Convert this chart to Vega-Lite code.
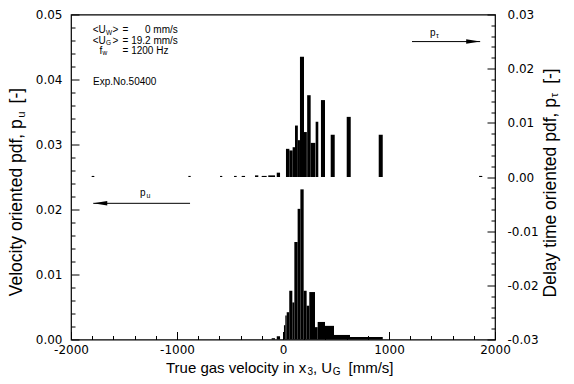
{
  "$schema": "https://vega.github.io/schema/vega-lite/v6.json",
  "width": 424,
  "height": 325,
  "autosize": {"type": "none"},
  "padding": {"left": 71, "top": 14.5, "right": 79, "bottom": 44.5},
  "background": "white",
  "config": {
    "view": {"stroke": "black", "strokeWidth": 1.2},
    "axis": {"domain": false, "grid": false, "tickColor": "black", "tickWidth": 1, "labelColor": "black", "labelFont": "DejaVu Sans", "labelFontSize": 12, "labelFlush": false, "labelOverlap": false, "labelBound": false}
  },
  "datasets": {
    "pu": [
      {"lo": -107, "hi": -75, "p": 0.0002}, {"lo": -59, "hi": -28, "p": 0.0005},
      {"lo": 9, "hi": 22, "p": 0.0022}, {"lo": 22, "hi": 35, "p": 0.0037},
      {"lo": 35, "hi": 59, "p": 0.0042}, {"lo": 59, "hi": 88, "p": 0.0075},
      {"lo": 88, "hi": 107, "p": 0.0057}, {"lo": 107, "hi": 138, "p": 0.0150},
      {"lo": 138, "hi": 164, "p": 0.0201}, {"lo": 164, "hi": 195, "p": 0.0231},
      {"lo": 195, "hi": 223, "p": 0.0075}, {"lo": 223, "hi": 248, "p": 0.0052},
      {"lo": 248, "hi": 302, "p": 0.0073}, {"lo": 302, "hi": 327, "p": 0.0019},
      {"lo": 327, "hi": 396, "p": 0.0027}, {"lo": 396, "hi": 481, "p": 0.0021},
      {"lo": 481, "hi": 632, "p": 0.0007}, {"lo": 632, "hi": 941, "p": 0.0004}
    ],
    "ptau": [
      {"lo": -1805, "hi": -1780, "p": 0.0002}, {"lo": -893, "hi": -871, "p": 0.0002},
      {"lo": -594, "hi": -573, "p": 0.0002}, {"lo": -462, "hi": -437, "p": 0.0002},
      {"lo": -390, "hi": -358, "p": 0.0002}, {"lo": -264, "hi": -233, "p": 0.0003},
      {"lo": -201, "hi": -154, "p": 0.0002}, {"lo": -139, "hi": -75, "p": 0.0003},
      {"lo": -59, "hi": -28, "p": 0.0008},
      {"lo": 28, "hi": 60, "p": 0.0052}, {"lo": 60, "hi": 91, "p": 0.0049},
      {"lo": 91, "hi": 113, "p": 0.0055}, {"lo": 113, "hi": 140, "p": 0.0095},
      {"lo": 140, "hi": 160, "p": 0.0068}, {"lo": 160, "hi": 198, "p": 0.0222},
      {"lo": 198, "hi": 225, "p": 0.0083}, {"lo": 228, "hi": 261, "p": 0.0151},
      {"lo": 261, "hi": 305, "p": 0.0063}, {"lo": 308, "hi": 333, "p": 0.0102},
      {"lo": 358, "hi": 396, "p": 0.0142}, {"lo": 450, "hi": 488, "p": 0.0078},
      {"lo": 601, "hi": 639, "p": 0.0111}, {"lo": 903, "hi": 941, "p": 0.0078},
      {"lo": 1850, "hi": 1880, "p": 0.0002}
    ],
    "notes": [
      {"t": "<U", "x": -1795, "y": 0.04754},
      {"t": ">", "x": -1608, "y": 0.04754},
      {"t": "=", "x": -1514, "y": 0.04754},
      {"t": "0 mm/s", "x": -1302, "y": 0.04754},
      {"t": "<U", "x": -1795, "y": 0.046},
      {"t": ">", "x": -1608, "y": 0.046},
      {"t": "= 19.2 mm/s", "x": -1514, "y": 0.046},
      {"t": "f", "x": -1731, "y": 0.04446},
      {"t": "= 1200 Hz", "x": -1514, "y": 0.04446},
      {"t": "Exp.No.50400", "x": -1792, "y": 0.03966}
    ],
    "notes_sub": [
      {"t": "W", "x": -1670, "y": 0.04754},
      {"t": "G", "x": -1670, "y": 0.046},
      {"t": "w", "x": -1703, "y": 0.04446}
    ],
    "plabel_l": [{"t": "p", "x": -1349, "y": 0.0225}],
    "plabel_l_sub": [{"t": "u", "x": -1288, "y": 0.0225}],
    "arrow_l": [{"x1": -1790, "x2": -877, "y": 0.02095}],
    "head_l": [{"x": -1724, "y": 0.02095}],
    "arrow_r": [{"x1": 1217, "x2": 1860, "y": 0.025}],
    "head_r": [{"x": 1794, "y": 0.025}],
    "notes_r": [{"t": "p", "x": 1387, "y": 0.0266}],
    "notes_r_sub": [{"t": "τ", "x": 1443, "y": 0.0266}],
    "xtitle": [
      {"t": "True gas velocity in x", "x": -1104, "y": -0.00438},
      {"t": ", U", "x": 283, "y": -0.00438},
      {"t": "[mm/s]", "x": 618, "y": -0.00438}
    ],
    "xtitle_sub": [
      {"t": "3", "x": 230, "y": -0.00438},
      {"t": "G", "x": 469, "y": -0.00438}
    ],
    "ltitle": [
      {"t": "Velocity oriented pdf, p", "x": -2509, "y": 0.00665},
      {"t": "[-]", "x": -2509, "y": 0.03632}
    ],
    "ltitle_sub": [{"t": "u", "x": -2509, "y": 0.03411}],
    "rtitle": [
      {"t": "Delay time oriented pdf, p", "x": 2528, "y": -0.02224},
      {"t": "[-]", "x": 2528, "y": 0.0172}
    ],
    "rtitle_sub": [{"t": "τ", "x": 2528, "y": 0.01466}]
  },
  "layer": [
    {
      "layer": [
        {
          "data": {"name": "pu"},
          "mark": {"type": "rect", "color": "black"},
          "encoding": {
            "x": {"field": "lo", "type": "quantitative", "scale": {"domain": [-2000, 2000], "nice": false, "zero": false},
              "axis": {"title": null, "orient": "bottom", "values": [-2000, -1000, 0, 1000, 2000],
                "format": "d", "labelExpr": "replace(datum.label, '\u2212', '-')",
                "tickSize": -8, "labelPadding": 13}},
            "x2": {"field": "hi"},
            "y": {"field": "p", "type": "quantitative", "scale": {"domain": [0, 0.05], "nice": false, "zero": false},
              "axis": {"title": null, "orient": "left", "values": [0, 0.01, 0.02, 0.03, 0.04, 0.05],
                "format": ".2f", "tickSize": -8, "labelPadding": 17}},
            "y2": {"datum": 0}
          }
        },
        {
          "data": {"name": "pu"},
          "mark": {"type": "rect", "opacity": 0},
          "encoding": {
            "x": {"field": "lo", "type": "quantitative",
              "axis": {"title": null, "orient": "bottom", "labels": false, "tickSize": -4,
                "values": [-1800,-1600,-1400,-1200,-800,-600,-400,-200,200,400,600,800,1200,1400,1600,1800]}},
            "x2": {"field": "hi"},
            "y": {"field": "p", "type": "quantitative",
              "axis": {"title": null, "orient": "left", "labels": false, "tickSize": -4,
                "values": [0.002,0.004,0.006,0.008,0.012,0.014,0.016,0.018,0.022,0.024,0.026,0.028,0.032,0.034,0.036,0.038,0.042,0.044,0.046,0.048]}},
            "y2": {"datum": 0}
          }
        },
        {
          "data": {"name": "notes"},
          "mark": {"type": "text", "font": "Liberation Sans", "fontSize": 10, "align": "left", "baseline": "middle", "color": "black"},
          "encoding": {
            "x": {"field": "x", "type": "quantitative", "axis": null},
            "y": {"field": "y", "type": "quantitative", "axis": null},
            "text": {"field": "t"}
          }
        },
        {
          "data": {"name": "notes_sub"},
          "mark": {"type": "text", "font": "Liberation Sans", "fontSize": 6.5, "align": "left", "baseline": "middle", "dy": 2.5, "color": "black"},
          "encoding": {
            "x": {"field": "x", "type": "quantitative", "axis": null},
            "y": {"field": "y", "type": "quantitative", "axis": null},
            "text": {"field": "t"}
          }
        },
        {
          "data": {"name": "plabel_l"},
          "mark": {"type": "text", "font": "Liberation Sans", "fontSize": 10, "align": "left", "baseline": "middle", "color": "black"},
          "encoding": {
            "x": {"field": "x", "type": "quantitative", "axis": null},
            "y": {"field": "y", "type": "quantitative", "axis": null},
            "text": {"field": "t"}
          }
        },
        {
          "data": {"name": "plabel_l_sub"},
          "mark": {"type": "text", "font": "Liberation Sans", "fontSize": 7, "align": "left", "baseline": "middle", "dy": 3, "color": "black"},
          "encoding": {
            "x": {"field": "x", "type": "quantitative", "axis": null},
            "y": {"field": "y", "type": "quantitative", "axis": null},
            "text": {"field": "t"}
          }
        },
        {
          "data": {"name": "arrow_l"},
          "mark": {"type": "rule", "color": "black", "strokeWidth": 1},
          "encoding": {
            "x": {"field": "x1", "type": "quantitative", "axis": null},
            "x2": {"field": "x2"},
            "y": {"field": "y", "type": "quantitative", "axis": null}
          }
        },
        {
          "data": {"name": "head_l"},
          "mark": {"type": "point", "shape": "M -1 0 L 1 -0.32 L 1 0.32 Z", "size": 196, "filled": true, "color": "black", "opacity": 1, "strokeWidth": 0},
          "encoding": {
            "x": {"field": "x", "type": "quantitative", "axis": null},
            "y": {"field": "y", "type": "quantitative", "axis": null}
          }
        },
        {
          "data": {"name": "xtitle"},
          "mark": {"type": "text", "font": "Liberation Sans", "fontSize": 15, "align": "left", "baseline": "middle", "color": "black"},
          "encoding": {
            "x": {"field": "x", "type": "quantitative", "axis": null},
            "y": {"field": "y", "type": "quantitative", "axis": null},
            "text": {"field": "t"}
          }
        },
        {
          "data": {"name": "xtitle_sub"},
          "mark": {"type": "text", "font": "Liberation Sans", "fontSize": 10, "align": "left", "baseline": "middle", "dy": 4, "color": "black"},
          "encoding": {
            "x": {"field": "x", "type": "quantitative", "axis": null},
            "y": {"field": "y", "type": "quantitative", "axis": null},
            "text": {"field": "t"}
          }
        },
        {
          "data": {"name": "ltitle"},
          "mark": {"type": "text", "font": "Liberation Sans", "fontSize": 17.5, "angle": 270, "align": "left", "baseline": "middle", "color": "black"},
          "encoding": {
            "x": {"field": "x", "type": "quantitative", "axis": null},
            "y": {"field": "y", "type": "quantitative", "axis": null},
            "text": {"field": "t"}
          }
        },
        {
          "data": {"name": "ltitle_sub"},
          "mark": {"type": "text", "font": "Liberation Sans", "fontSize": 11.5, "angle": 270, "align": "left", "baseline": "middle", "dy": 4.5, "color": "black"},
          "encoding": {
            "x": {"field": "x", "type": "quantitative", "axis": null},
            "y": {"field": "y", "type": "quantitative", "axis": null},
            "text": {"field": "t"}
          }
        }
      ],
      "resolve": {"axis": {"x": "independent", "y": "independent"}}
    },
    {
      "layer": [
        {
          "data": {"name": "ptau"},
          "mark": {"type": "rect", "color": "black"},
          "encoding": {
            "x": {"field": "lo", "type": "quantitative", "axis": null},
            "x2": {"field": "hi"},
            "y": {"field": "p", "type": "quantitative", "scale": {"domain": [-0.03, 0.03], "nice": false, "zero": false},
              "axis": {"title": null, "orient": "right", "values": [-0.03, -0.02, -0.01, 0, 0.01, 0.02, 0.03],
                "format": ".2f", "labelExpr": "replace(datum.label, '\u2212', '-')",
                "tickSize": -8, "labelPadding": 20}},
            "y2": {"datum": 0}
          }
        },
        {
          "data": {"name": "ptau"},
          "mark": {"type": "rect", "opacity": 0},
          "encoding": {
            "x": {"field": "lo", "type": "quantitative", "axis": null},
            "x2": {"field": "hi"},
            "y": {"field": "p", "type": "quantitative",
              "axis": {"title": null, "orient": "right", "labels": false, "tickSize": -4,
                "values": [-0.028,-0.026,-0.024,-0.022,-0.018,-0.016,-0.014,-0.012,-0.008,-0.006,-0.004,-0.002,0.002,0.004,0.006,0.008,0.012,0.014,0.016,0.018,0.022,0.024,0.026,0.028]}},
            "y2": {"datum": 0}
          }
        },
        {
          "data": {"name": "notes_r"},
          "mark": {"type": "text", "font": "Liberation Sans", "fontSize": 10, "align": "left", "baseline": "middle", "color": "black"},
          "encoding": {
            "x": {"field": "x", "type": "quantitative", "axis": null},
            "y": {"field": "y", "type": "quantitative", "axis": null},
            "text": {"field": "t"}
          }
        },
        {
          "data": {"name": "notes_r_sub"},
          "mark": {"type": "text", "font": "Liberation Sans", "fontSize": 7, "align": "left", "baseline": "middle", "dy": 3, "color": "black"},
          "encoding": {
            "x": {"field": "x", "type": "quantitative", "axis": null},
            "y": {"field": "y", "type": "quantitative", "axis": null},
            "text": {"field": "t"}
          }
        },
        {
          "data": {"name": "arrow_r"},
          "mark": {"type": "rule", "color": "black", "strokeWidth": 1},
          "encoding": {
            "x": {"field": "x1", "type": "quantitative", "axis": null},
            "x2": {"field": "x2"},
            "y": {"field": "y", "type": "quantitative", "axis": null}
          }
        },
        {
          "data": {"name": "head_r"},
          "mark": {"type": "point", "shape": "M 1 0 L -1 -0.32 L -1 0.32 Z", "size": 196, "filled": true, "color": "black", "opacity": 1, "strokeWidth": 0},
          "encoding": {
            "x": {"field": "x", "type": "quantitative", "axis": null},
            "y": {"field": "y", "type": "quantitative", "axis": null}
          }
        },
        {
          "data": {"name": "rtitle"},
          "mark": {"type": "text", "font": "Liberation Sans", "fontSize": 17.5, "angle": 270, "align": "left", "baseline": "middle", "color": "black"},
          "encoding": {
            "x": {"field": "x", "type": "quantitative", "axis": null},
            "y": {"field": "y", "type": "quantitative", "axis": null},
            "text": {"field": "t"}
          }
        },
        {
          "data": {"name": "rtitle_sub"},
          "mark": {"type": "text", "font": "Liberation Sans", "fontSize": 11.5, "angle": 270, "align": "left", "baseline": "middle", "dy": 4.5, "color": "black"},
          "encoding": {
            "x": {"field": "x", "type": "quantitative", "axis": null},
            "y": {"field": "y", "type": "quantitative", "axis": null},
            "text": {"field": "t"}
          }
        }
      ],
      "resolve": {"axis": {"y": "independent"}}
    }
  ],
  "resolve": {"scale": {"y": "independent"}, "axis": {"y": "independent"}}
}
